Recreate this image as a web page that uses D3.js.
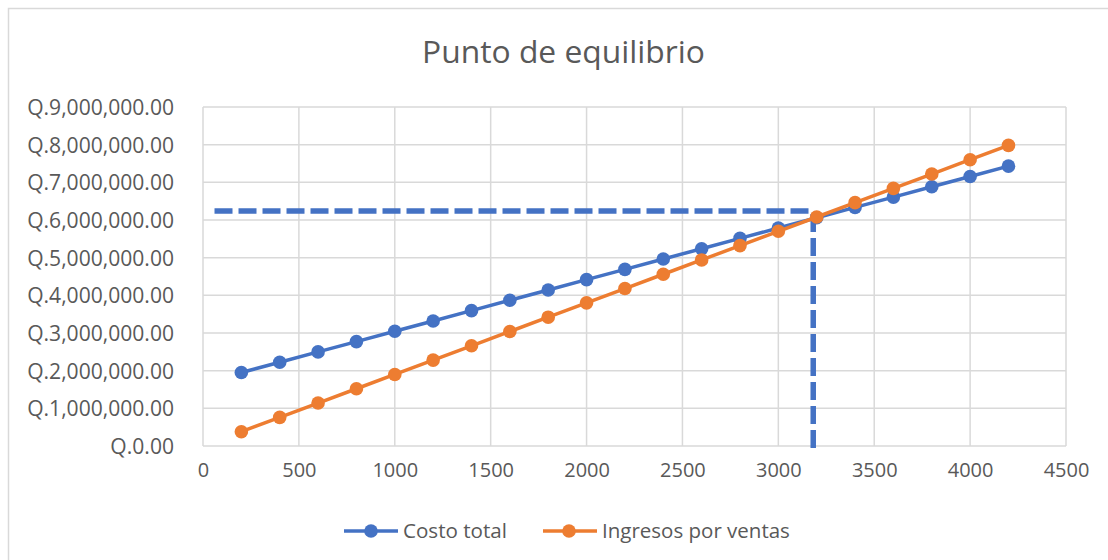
<!DOCTYPE html>
<html><head><meta charset="utf-8">
<script src="https://cdn.jsdelivr.net/npm/d3@7"></script>
<style>body{margin:0;background:#fff}svg{display:block}text{font-family:"Open Sans",sans-serif;fill:#595959}</style>
</head><body><svg id="c" width="1108" height="560"></svg>
<script>
const title = "Punto de equilibrio";
const units = [200,400,600,800,1000,1200,1400,1600,1800,2000,2200,2400,2600,2800,3000,3200,3400,3600,3800,4000,4200];
const costoTotal = [1950000,2224000,2498000,2772000,3046000,3320000,3594000,3868000,4142000,4416000,4690000,4964000,5238000,5512000,5786000,6060000,6334000,6608000,6882000,7156000,7430000];
const ingresos = [380000,760000,1140000,1520000,1900000,2280000,2660000,3040000,3420000,3800000,4180000,4560000,4940000,5320000,5700000,6080000,6460000,6840000,7220000,7600000,7980000];
const seriesNames = ["Costo total","Ingresos por ventas"];
const xTicks = [0,500,1000,1500,2000,2500,3000,3500,4000,4500];
const yTicks = [0,1000000,2000000,3000000,4000000,5000000,6000000,7000000,8000000,9000000];
const dashH = [[60,6240000],[3182,6240000]];
const dashV = [[3182,-50000],[3182,6240000]];

const svg = d3.select("#c");
const blue = "#4472C4", orange = "#ED7D31", grid = "#d9d9d9";
svg.append("rect").attr("x",8.5).attr("y",8.5).attr("width",1300).attr("height",700).attr("fill","none").attr("stroke","#d9d9d9").attr("stroke-width",1.5);

const x = d3.scaleLinear().domain([0,4500]).range([203,1066]);
const y = d3.scaleLinear().domain([0,9000000]).range([446,107]);

function fit(sel, target){
  sel.each(function(){
    const n=this, fs=parseFloat(n.getAttribute("font-size")), w=n.getComputedTextLength();
    if(w>0) n.setAttribute("font-size", (fs*target/w).toFixed(2));
  });
}

// grid
const g = svg.append("g");
g.selectAll("line.h").data(yTicks).join("line").attr("x1",x(0)).attr("x2",x(4500))
  .attr("y1",d=>y(d)).attr("y2",d=>y(d)).attr("stroke",grid).attr("stroke-width",1.5);
g.selectAll("line.v").data(xTicks).join("line").attr("y1",y(0)).attr("y2",y(9000000))
  .attr("x1",d=>x(d)).attr("x2",d=>x(d)).attr("stroke",grid).attr("stroke-width",1.5);

// axes labels
const fmt = d => "Q." + d3.format(",.2f")(d);
const yAxis = d3.axisLeft(y).tickValues(yTicks).tickFormat(fmt).tickSize(0).tickPadding(0);
const ya = svg.append("g").attr("transform","translate(174,0)").call(yAxis);
ya.select(".domain").remove();
ya.selectAll("text").attr("font-size",18).attr("fill","#595959").attr("font-family","Open Sans").attr("dy","0.35em");
const yl = ya.selectAll("text").filter(d=>d===9000000).node().getComputedTextLength();
const ys = 18*147/yl;
ya.selectAll("text").attr("font-size",ys);

const xAxis = d3.axisBottom(x).tickValues(xTicks).tickFormat(d3.format("d")).tickSize(0).tickPadding(0);
const xa = svg.append("g").attr("transform","translate(0,463)").call(xAxis);
xa.select(".domain").remove();
xa.selectAll("text").attr("font-size",18).attr("fill","#595959").attr("font-family","Open Sans").attr("dy","0.71em");
const xl = xa.selectAll("text").filter(d=>d===1000).node().getComputedTextLength();
xa.selectAll("text").attr("font-size",18*45.7/xl);

// dashed
const line = d3.line().x(d=>x(d[0])).y(d=>y(d[1]));
[dashH,dashV].forEach(dd=>{
  svg.append("path").attr("d",line(dd)).attr("fill","none").attr("stroke",blue)
    .attr("stroke-width",5.5).attr("stroke-dasharray","18,6");
});

// series
const seriesData = [costoTotal, ingresos];
const colors = [blue, orange];
seriesData.forEach((vals,i)=>{
  const pts = units.map((u,j)=>[u, vals[j]]);
  svg.append("path").attr("d",line(pts)).attr("fill","none").attr("stroke",colors[i]).attr("stroke-width",3.5);
  svg.append("g").selectAll("circle").data(pts).join("circle")
    .attr("cx",d=>x(d[0])).attr("cy",d=>y(d[1])).attr("r",6.8).attr("fill",colors[i]);
});

// title
const t = svg.append("text").attr("x",563.5).attr("y",63).attr("text-anchor","middle").attr("font-size",28).text(title);
fit(t, 283);

// legend
const leg = [{x1:344,x2:398,cx:371,tx:403,w:104},{x1:543,x2:597,cx:569,tx:602,w:188}];
leg.forEach((L,i)=>{
  svg.append("line").attr("x1",L.x1).attr("x2",L.x2).attr("y1",531).attr("y2",531).attr("stroke",colors[i]).attr("stroke-width",3.5);
  svg.append("circle").attr("cx",L.cx).attr("cy",531).attr("r",6.8).attr("fill",colors[i]);
  const tt = svg.append("text").attr("x",L.tx).attr("y",531).attr("dy","0.35em").attr("font-size",18).text(seriesNames[i]);
  fit(tt, L.w);
});
</script></body></html>
